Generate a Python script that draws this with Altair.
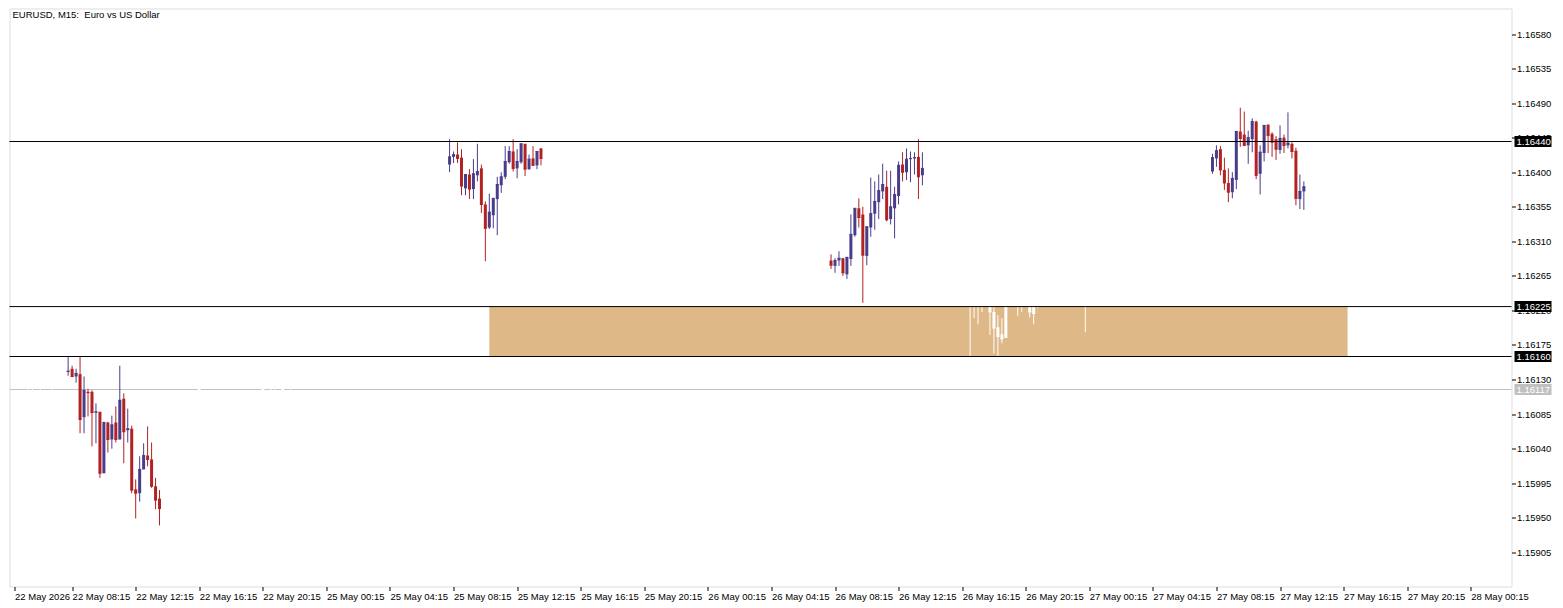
import json
import altair as alt
import pandas as pd

# ---------------- data ----------------
title_text = "EURUSD, M15:\u00a0 Euro vs US Dollar"

# bar index on the M15 time axis (0 = 22 May 04:15, weekend has no bars)
session_start = [15, 111, 207, 303]   # 08:00 on 22, 25, 26, 27 May

s1_open = [1.16140, 1.16144, 1.16134, 1.16137, 1.16081, 1.16114, 1.16114, 1.16087, 1.16088, 1.16008, 1.16074, 1.16052,
           1.16074, 1.16052, 1.16105, 1.16064, 1.16066, 1.15987, 1.15982, 1.16013, 1.16031, 1.16026, 1.15991, 1.15975]
s1_high = [1.16160, 1.16148, 1.16144, 1.16160, 1.16134, 1.16118, 1.16116, 1.16099, 1.16088, 1.16075, 1.16075, 1.16083,
           1.16095, 1.16148, 1.16112, 1.16092, 1.16070, 1.16000, 1.16030, 1.16047, 1.16069, 1.16048, 1.16002, 1.15986]
s1_low = [1.16135, 1.16133, 1.16126, 1.16060, 1.16060, 1.16082, 1.16043, 1.16047, 1.16002, 1.16008, 1.16035, 1.16040,
          1.16048, 1.16052, 1.16021, 1.16048, 1.15982, 1.15949, 1.15971, 1.16013, 1.16017, 1.15989, 1.15961, 1.15940]
s1_close = [1.16141, 1.16134, 1.16138, 1.16078, 1.16116, 1.16113, 1.16087, 1.16088, 1.16008, 1.16074, 1.16052, 1.16071,
            1.16052, 1.16103, 1.16062, 1.16066, 1.15986, 1.15982, 1.16013, 1.16031, 1.16026, 1.15991, 1.15973, 1.15962]

s2_open = [1.16410, 1.16420, 1.16423, 1.16419, 1.16379, 1.16397, 1.16378, 1.16396, 1.16405, 1.16358, 1.16328, 1.16344,
           1.16365, 1.16383, 1.16394, 1.16413, 1.16427, 1.16405, 1.16413, 1.16437, 1.16404, 1.16418, 1.16409, 1.16431]
s2_high = [1.16443, 1.16427, 1.16439, 1.16430, 1.16397, 1.16404, 1.16417, 1.16437, 1.16410, 1.16362, 1.16372, 1.16366,
           1.16394, 1.16400, 1.16434, 1.16434, 1.16443, 1.16430, 1.16437, 1.16437, 1.16423, 1.16434, 1.16427, 1.16431]
s2_low = [1.16400, 1.16412, 1.16412, 1.16370, 1.16370, 1.16365, 1.16365, 1.16388, 1.16347, 1.16284, 1.16326, 1.16327,
          1.16318, 1.16373, 1.16391, 1.16411, 1.16401, 1.16392, 1.16411, 1.16395, 1.16403, 1.16409, 1.16404, 1.16409]
s2_close = [1.16420, 1.16423, 1.16418, 1.16382, 1.16397, 1.16378, 1.16398, 1.16401, 1.16358, 1.16327, 1.16348, 1.16366,
            1.16384, 1.16394, 1.16414, 1.16427, 1.16405, 1.16414, 1.16437, 1.16404, 1.16417, 1.16409, 1.16427, 1.16418]

s3_open = [1.16285, 1.16278, 1.16285, 1.16288, 1.16267, 1.16287, 1.16318, 1.16353, 1.16345, 1.16291, 1.16328, 1.16346,
           1.16361, 1.16375, 1.16381, 1.16339, 1.16353, 1.16369, 1.16410, 1.16400, 1.16417, 1.16418, 1.16420, 1.16396]
s3_high = [1.16293, 1.16288, 1.16297, 1.16288, 1.16290, 1.16345, 1.16353, 1.16366, 1.16355, 1.16329, 1.16393, 1.16388,
           1.16397, 1.16411, 1.16402, 1.16402, 1.16381, 1.16414, 1.16426, 1.16431, 1.16427, 1.16426, 1.16443, 1.16426]
s3_low = [1.16274, 1.16269, 1.16278, 1.16265, 1.16261, 1.16278, 1.16316, 1.16328, 1.16230, 1.16279, 1.16316, 1.16325,
          1.16339, 1.16365, 1.16336, 1.16332, 1.16314, 1.16358, 1.16388, 1.16390, 1.16387, 1.16397, 1.16365, 1.16383]
s3_close = [1.16279, 1.16285, 1.16288, 1.16269, 1.16289, 1.16319, 1.16353, 1.16341, 1.16292, 1.16329, 1.16346, 1.16362,
            1.16376, 1.16384, 1.16338, 1.16355, 1.16371, 1.16409, 1.16400, 1.16417, 1.16418, 1.16419, 1.16394, 1.16405]

s4_open = [1.16401, 1.16418, 1.16430, 1.16403, 1.16386, 1.16374, 1.16390, 1.16453, 1.16449, 1.16435, 1.16443, 1.16466,
           1.16398, 1.16425, 1.16462, 1.16450, 1.16443, 1.16429, 1.16445, 1.16435, 1.16437, 1.16428, 1.16365, 1.16375]
s4_high = [1.16424, 1.16435, 1.16434, 1.16419, 1.16405, 1.16400, 1.16454, 1.16484, 1.16479, 1.16454, 1.16470, 1.16467,
           1.16435, 1.16461, 1.16462, 1.16452, 1.16447, 1.16461, 1.16449, 1.16478, 1.16439, 1.16432, 1.16397, 1.16388]
s4_low = [1.16398, 1.16407, 1.16396, 1.16377, 1.16361, 1.16366, 1.16378, 1.16433, 1.16434, 1.16411, 1.16426, 1.16391,
          1.16371, 1.16414, 1.16425, 1.16420, 1.16416, 1.16424, 1.16425, 1.16431, 1.16418, 1.16357, 1.16352, 1.16351]
s4_close = [1.16419, 1.16428, 1.16403, 1.16386, 1.16374, 1.16392, 1.16453, 1.16444, 1.16435, 1.16445, 1.16466, 1.16396,
            1.16426, 1.16461, 1.16448, 1.16439, 1.16430, 1.16444, 1.16435, 1.16438, 1.16427, 1.16366, 1.16375, 1.16381]

# candles outside the session are painted in the background colour (only visible over objects)
hidden_bar = [5, 6, 8, 11, 48, 64, 66, 67, 69, 71,
              242, 243, 244, 245, 247, 248, 249, 250, 251, 254, 255, 257, 258, 259, 271]
hidden_open = [1.16135, 1.16136, 1.16134, 1.16133, 1.16122, 1.16123, 1.16134, 1.16136, 1.16122, 1.16135,
               1.16240, 1.16238, 1.16236, 1.16240, 1.16232, 1.16218, 1.16198, 1.16189, 1.16232, 1.16240, 1.16238,
               1.16232, 1.16228, 1.16240, 1.16245]
hidden_high = [1.16140, 1.16141, 1.16139, 1.16138, 1.16128, 1.16127, 1.16139, 1.16141, 1.16127, 1.16140,
               1.16248, 1.16245, 1.16242, 1.16244, 1.16238, 1.16235, 1.16214, 1.16210, 1.16238, 1.16246, 1.16243,
               1.16240, 1.16235, 1.16246, 1.16250]
hidden_low = [1.16110, 1.16112, 1.16111, 1.16110, 1.16108, 1.16109, 1.16111, 1.16112, 1.16108, 1.16111,
              1.16150, 1.16210, 1.16202, 1.16218, 1.16188, 1.16164, 1.16160, 1.16177, 1.16184, 1.16213, 1.16218,
              1.16211, 1.16202, 1.16223, 1.16192]
hidden_close = [1.16130, 1.16131, 1.16129, 1.16128, 1.16112, 1.16111, 1.16130, 1.16131, 1.16112, 1.16130,
                1.16236, 1.16232, 1.16230, 1.16234, 1.16218, 1.16197, 1.16186, 1.16183, 1.16185, 1.16234, 1.16232,
                1.16218, 1.16216, 1.16234, 1.16238]

# chart objects
level_lines = [1.16440, 1.16225, 1.16160]
bid_price = 1.16117
zone_bars = [121, 337]
zone_prices = [1.16225, 1.16160]

y_tick_values = [1.15905, 1.15950, 1.15995, 1.16040, 1.16085, 1.16130, 1.16175, 1.16220,
                 1.16265, 1.16310, 1.16355, 1.16400, 1.16445, 1.16490, 1.16535, 1.16580]
x_tick_labels = ["22 May 2026", "22 May 08:15", "22 May 12:15", "22 May 16:15", "22 May 20:15",
                 "25 May 00:15", "25 May 04:15", "25 May 08:15", "25 May 12:15", "25 May 16:15",
                 "25 May 20:15", "26 May 00:15", "26 May 04:15", "26 May 08:15", "26 May 12:15",
                 "26 May 16:15", "26 May 20:15", "27 May 00:15", "27 May 04:15", "27 May 08:15",
                 "27 May 12:15", "27 May 16:15", "27 May 20:15", "28 May 00:15"]
bars_per_label = 16

# ---------------- tables ----------------
rows = []
sessions = [(s1_open, s1_high, s1_low, s1_close), (s2_open, s2_high, s2_low, s2_close),
            (s3_open, s3_high, s3_low, s3_close), (s4_open, s4_high, s4_low, s4_close)]
for start, (o_, h_, l_, c_) in zip(session_start, sessions):
    for k in range(len(o_)):
        rows.append({"i": start + k, "o": o_[k], "h": h_[k], "l": l_[k], "c": c_[k],
                     "kind": "up" if c_[k] > o_[k] else "down"})
hidden_rows = [{"i": hidden_bar[k], "o": hidden_open[k], "h": hidden_high[k], "l": hidden_low[k],
                "c": hidden_close[k], "kind": "hidden"} for k in range(len(hidden_bar))]
candles = pd.DataFrame(hidden_rows + rows)

zone = pd.DataFrame([{"x0": zone_bars[0], "x1": zone_bars[1], "y0": zone_prices[0], "y1": zone_prices[1]}])
lines = pd.DataFrame({"v": level_lines})
bid = pd.DataFrame({"v": [bid_price]})
tags = pd.DataFrame({"v": level_lines + [bid_price],
                     "box": ["#000000"] * len(level_lines) + ["#C0C0C0"],
                     "label": [f"{v:.5f}" for v in level_lines + [bid_price]]})
title_df = pd.DataFrame({"t": [title_text]})

# ---------------- layout ----------------
W, H = 1502, 578
FONT = "Liberation Sans"
FS = 9.5
X_MIN = 1.5
X_MAX = X_MIN + W / 4.0
xs = alt.Scale(domain=[X_MIN, X_MAX], nice=False, zero=False)
ys = alt.Scale(domain=[1.1586047, 1.1661321], nice=False, zero=False)
cs = alt.Scale(domain=["up", "down", "hidden"], range=["#483D8B", "#B22222", "#FFFFFF"])

x_ticks = [X_MIN + 0.005] + [bars_per_label * k for k in range(1, len(x_tick_labels))]
label_expr = (json.dumps(x_tick_labels)
              + f"[datum.value < {bars_per_label / 2} ? 0 : round(datum.value / {bars_per_label})]")

xaxis = alt.Axis(values=x_ticks, labelExpr=label_expr, title=None, grid=False, domain=False,
                 tickSize=4, tickColor="black", labelAlign="left", labelPadding=1, labelFlush=False,
                 labelOverlap=False, labelBound=False, labelFont=FONT, labelFontSize=FS, labelColor="black")
yaxis = alt.Axis(values=y_tick_values, format=".5f", orient="right", title=None, grid=False, domain=False,
                 tickSize=4, tickColor="black", labelPadding=1, labelFlush=False, labelOverlap=False,
                 labelFont=FONT, labelFontSize=FS, labelColor="black", labelBaseline="middle")

X = lambda f: alt.X(f, scale=xs, axis=xaxis)
Y = lambda f: alt.Y(f, scale=ys, axis=yaxis)

zone_layer = alt.Chart(zone).mark_rect(color="#DEB887").encode(
    x=X("x0:Q"), x2="x1:Q", y=Y("y0:Q"), y2="y1:Q")

bid_layer = alt.Chart(bid).mark_rule(color="#C0C0C0", strokeWidth=1).encode(y=Y("v:Q"))

wicks = alt.Chart(candles).mark_rule(strokeWidth=1).encode(
    x=X("i:Q"), y=Y("l:Q"), y2="h:Q",
    color=alt.Color("kind:N", scale=cs, legend=None))

bodies = alt.Chart(candles).mark_bar(size=3).encode(
    x=X("i:Q"), y=Y("o:Q"), y2="c:Q",
    color=alt.Color("kind:N", scale=cs, legend=None))

closes = alt.Chart(candles).mark_tick(orient="horizontal", size=3, thickness=1, opacity=1).encode(
    x=X("i:Q"), y=Y("c:Q"),
    color=alt.Color("kind:N", scale=cs, legend=None))

line_layer = alt.Chart(lines).mark_rule(color="black", strokeWidth=1).encode(y=Y("v:Q"))

tag_boxes = alt.Chart(tags).mark_tick(orient="horizontal", size=37, thickness=11, opacity=1).encode(
    x=alt.value(W + 21.5), y=Y("v:Q"),
    color=alt.Color("box:N", scale=None))

tag_text = alt.Chart(tags).mark_text(align="left", baseline="middle", font=FONT, fontSize=FS,
                                     color="white").encode(
    x=alt.value(W + 5), y=Y("v:Q"), text="label:N")

title_layer = alt.Chart(title_df).mark_text(align="left", baseline="middle", font=FONT, fontSize=FS,
                                            color="black").encode(
    x=alt.value(3), y=alt.value(6), text="t:N")

chart = alt.layer(zone_layer, bid_layer, wicks, bodies, closes, line_layer, tag_boxes, tag_text,
                  title_layer).properties(
    width=W, height=H, background="white",
    padding={"left": 0.5, "top": 0.5, "right": 0, "bottom": 0}
).configure_view(stroke="black", strokeWidth=1).configure(font=FONT)

chart.save("out.html", embed_options={"renderer": "svg", "actions": False})
